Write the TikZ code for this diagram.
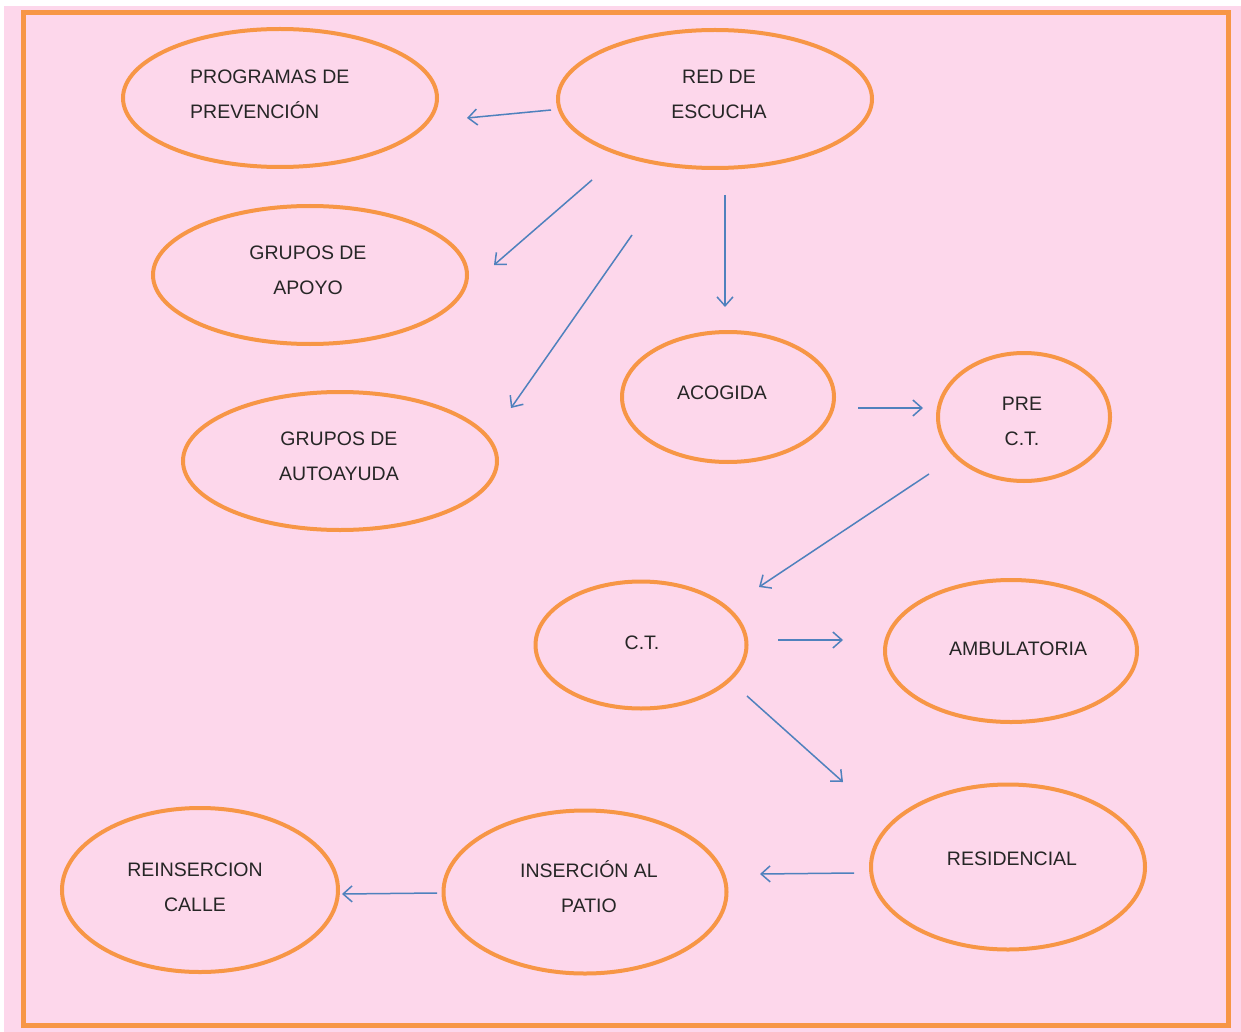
\documentclass[tikz,border=0pt]{standalone}
\usepackage{fontspec}
\setmainfont{Liberation Sans}
\usetikzlibrary{arrows.meta,shapes.geometric}
\definecolor{bgpink}{RGB}{253,215,235}
\definecolor{orng}{RGB}{247,150,70}
\definecolor{arrblue}{RGB}{79,129,189}
\tikzset{
  oval/.style={ellipse,draw=orng,line width=4pt,fill=bgpink,inner sep=0pt},
  lbl/.style={inner sep=0pt,font=\fontsize{19.5}{35}\selectfont,align=center,text=black!85},
  arr/.style={draw=arrblue,line width=1.5pt,-{Straight Barb[length=9pt,width=16pt,line width=1.5pt]}}
}
\begin{document}
\begin{tikzpicture}[x=1pt,y=-1pt]
\useasboundingbox (0,0) rectangle (1241,1032);
\fill[white] (0,0) rectangle (1241,1032);
\fill[bgpink] (4,6) rectangle (1241,1032);
\draw[orng,line width=5pt] (23,13) rectangle (1228,1025);

\node[oval,minimum width=314,minimum height=138] (prog) at (280,98) {};
\node[oval,minimum width=314,minimum height=138] (red) at (715,99) {};
\node[oval,minimum width=314,minimum height=138] (apoyo) at (310,275) {};
\node[oval,minimum width=314,minimum height=138] (auto) at (340,461) {};
\node[oval,minimum width=212,minimum height=130] (acog) at (728,397) {};
\node[oval,minimum width=172,minimum height=128] (prect) at (1024,417) {};
\node[oval,minimum width=211,minimum height=127] (ct) at (641,645) {};
\node[oval,minimum width=252,minimum height=142] (amb) at (1011,651) {};
\node[oval,minimum width=274,minimum height=165] (resid) at (1008,867) {};
\node[oval,minimum width=283,minimum height=163] (insp) at (585,892) {};
\node[oval,minimum width=276,minimum height=164] (reins) at (200,890) {};

\node[lbl,align=left,anchor=west] (progt) at (190,94) {PROGRAMAS DE\\PREVENCIÓN};
\node[lbl] (redt) at (719,94) {RED DE\\ESCUCHA};
\node[lbl] (apoyot) at (308,270) {GRUPOS DE\\APOYO};
\node[lbl] (autot) at (339,456) {GRUPOS DE\\AUTOAYUDA};
\node[lbl] (acogt) at (722,393) {ACOGIDA};
\node[lbl] (prectt) at (1022,421) {PRE\\C.T.};
\node[lbl] (ctt) at (642,643) {C.T.};
\node[lbl] (ambt) at (1018,649) {AMBULATORIA};
\node[lbl] (residt) at (1012,859) {RESIDENCIAL};
\node[lbl] (inspt) at (589,887) {INSERCIÓN AL\\PATIO};
\node[lbl] (reinst) at (195,887) {REINSERCION\\CALLE};

\coordinate (a1s) at (551,110); \coordinate (a1e) at (467,118);
\coordinate (a2s) at (592,180); \coordinate (a2e) at (494,265);
\coordinate (a3s) at (632,235); \coordinate (a3e) at (511,408);
\coordinate (a4s) at (725,195); \coordinate (a4e) at (725,307);
\coordinate (a5s) at (858,408); \coordinate (a5e) at (923,408);
\coordinate (a6s) at (929,474); \coordinate (a6e) at (759,587);
\coordinate (a7s) at (778,640); \coordinate (a7e) at (843,640);
\coordinate (a8s) at (747,696); \coordinate (a8e) at (843,782);
\coordinate (a9s) at (854,873); \coordinate (a9e) at (760,874);
\coordinate (a10s) at (437,893); \coordinate (a10e) at (342,894);

\draw[arr] (a1s) -- (a1e);
\draw[arr] (a2s) -- (a2e);
\draw[arr] (a3s) -- (a3e);
\draw[arr] (a4s) -- (a4e);
\draw[arr] (a5s) -- (a5e);
\draw[arr] (a6s) -- (a6e);
\draw[arr] (a7s) -- (a7e);
\draw[arr] (a8s) -- (a8e);
\draw[arr] (a9s) -- (a9e);
\draw[arr] (a10s) -- (a10e);
\end{tikzpicture}
\end{document}
